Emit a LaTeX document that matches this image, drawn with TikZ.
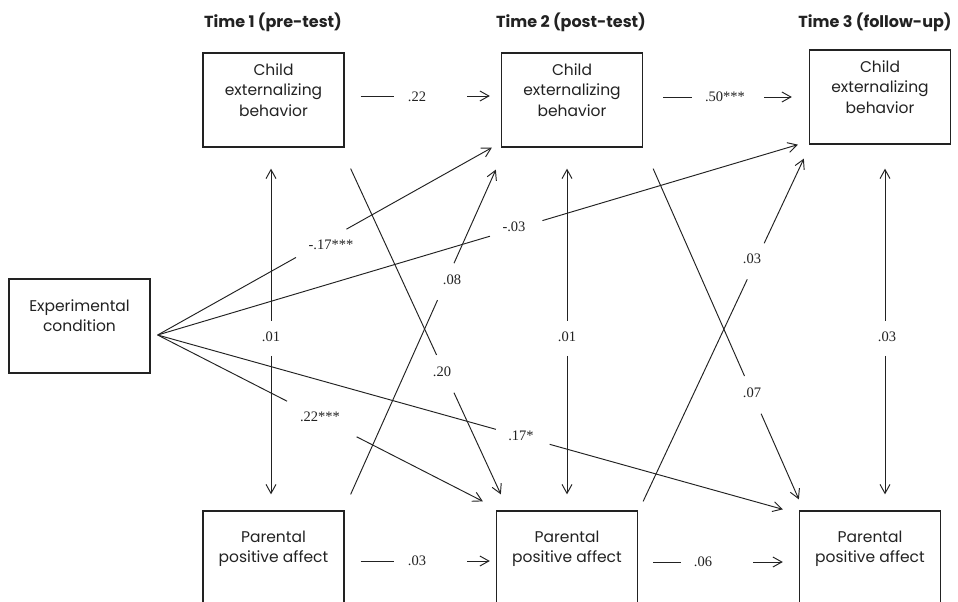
\documentclass[tikz,border=0pt]{standalone}
\usepackage{fontspec}
\setmainfont{Poppins}
\newfontfamily\labfont{Liberation Serif}
\usetikzlibrary{arrows.meta}
\definecolor{ink}{HTML}{222222}
\newcommand\gapline[6]{%
  \path #2 -- #3 coordinate[pos=#4] (#6a) coordinate[pos=#5] (#6b);
  \draw[conn,#1] #2 -- (#6a);
  \draw[conn,->] (#6b) -- #3;}
\begin{document}
\begin{tikzpicture}[x=1pt,y=-1pt,
  box/.style={draw=ink,line width=1.3pt,minimum width=141pt,minimum height=94pt,inner sep=0pt,
    text=ink,font=\fontsize{15.5}{20.5}\selectfont},
  ttl/.style={text=ink,font=\fontsize{16}{19}\selectfont\bfseries,inner sep=0pt},
  lbl/.style={text=ink,font=\labfont\fontsize{14.5}{16}\selectfont,inner sep=0pt},
  conn/.style={draw=ink,line width=0.95pt},
  >={Straight Barb[length=9pt,width=10pt]}]
\useasboundingbox (0,0) rectangle (958,602);
\fill[white] (0,0) rectangle (958,602);
\clip (0,0) rectangle (958,602);

% titles
\node[ttl] (t1) at (273,22) {Time 1 (pre-test)};
\node[ttl] (t2) at (571,22) {Time 2 (post-test)};
\node[ttl] (t3) at (875,22) {Time 3 (follow-up)};

% boxes
\node[box] (c1) at (273.5,100) {\begin{tabular}{@{}c@{}}Child\\externalizing\\behavior\\[17pt]\end{tabular}};
\node[box] (c2) at (572,100) {\begin{tabular}{@{}c@{}}Child\\externalizing\\behavior\\[17pt]\end{tabular}};
\node[box] (c3) at (880,97) {\begin{tabular}{@{}c@{}}Child\\externalizing\\behavior\\[17pt]\end{tabular}};
\node[box] (ex) at (79.5,326) {\begin{tabular}{@{}c@{}}Experimental\\condition\\[17pt]\end{tabular}};
\node[box] (p1) at (273.5,558) {\begin{tabular}{@{}c@{}}Parental\\positive affect\\[19pt]\end{tabular}};
\node[box] (p2) at (567,558) {\begin{tabular}{@{}c@{}}Parental\\positive affect\\[19pt]\end{tabular}};
\node[box] (p3) at (870,558) {\begin{tabular}{@{}c@{}}Parental\\positive affect\\[19pt]\end{tabular}};

\coordinate (src) at ([shift={(7pt,-9pt)}]ex.east);

% horizontal paths
\gapline{}{([shift={(16pt,4pt)}]c1.east)}{([shift={(-11pt,4pt)}]c2.west)}{0.260}{0.824}{h1}
\gapline{}{([shift={(20pt,3pt)}]c2.east)}{([shift={(-17pt,0pt)}]c3.west)}{0.221}{0.786}{h2}
\gapline{}{([shift={(16pt,-3pt)}]p1.east)}{([shift={(-6pt,-3pt)}]p2.west)}{0.260}{0.824}{h3}
\gapline{}{([shift={(15pt,-4pt)}]p2.east)}{([shift={(-16pt,-4pt)}]p3.west)}{0.212}{0.773}{h4}

% vertical correlations
\gapline{<-}{([shift={(-2.5pt,-21pt)}]c1.south)}{([shift={(-2.5pt,16pt)}]p1.north)}{0.468}{0.575}{v1}
\gapline{<-}{([shift={(-5pt,-21pt)}]c2.south)}{([shift={(0pt,16pt)}]p2.north)}{0.468}{0.575}{v2}
\gapline{<-}{([shift={(5pt,-24pt)}]c3.south)}{([shift={(15pt,16pt)}]p3.north)}{0.468}{0.575}{v3}

% experimental condition effects
\gapline{}{(src)}{([shift={(-9pt,0pt)}]c2.south west)}{0.414}{0.565}{d1}
\gapline{}{(src)}{([shift={(-11pt,0pt)}]c3.south west)}{0.519}{0.601}{d2}
\gapline{}{(src)}{([shift={(-13pt,9pt)}]p2.north west)}{0.398}{0.612}{d3}
\gapline{}{(src)}{([shift={(-16pt,1pt)}]p3.north west)}{0.541}{0.627}{d4}

% cross-lagged paths
\gapline{}{([shift={(6pt,-21pt)}]c1.south east)}{([shift={(5pt,16pt)}]p2.north west)}{0.572}{0.688}{d5}
\gapline{}{([shift={(6pt,16pt)}]p1.north east)}{([shift={(-5pt,-22pt)}]c2.south west)}{0.598}{0.712}{d6}
\gapline{}{([shift={(10pt,-21pt)}]c2.south east)}{([shift={(0pt,11pt)}]p3.north west)}{0.627}{0.741}{d7}
\gapline{}{([shift={(5pt,9pt)}]p2.north east)}{([shift={(-5pt,-14pt)}]c3.south west)}{0.648}{0.753}{d8}

% labels
\node[lbl] (l1) at (417,97) {.22};
\node[lbl] (l2) at (725,97) {.50***};
\node[lbl] (l3) at (417,561) {.03};
\node[lbl] (l4) at (703,562) {.06};
\node[lbl] (l5) at (271,337) {.01};
\node[lbl] (l6) at (567,337) {.01};
\node[lbl] (l7) at (887,337) {.03};
\node[lbl] (l8) at (331,245) {-.17***};
\node[lbl] (l9) at (514,227) {-.03};
\node[lbl] (l10) at (320,417) {.22***};
\node[lbl] (l11) at (521,436) {.17*};
\node[lbl] (l12) at (442,372) {.20};
\node[lbl] (l13) at (452,280) {.08};
\node[lbl] (l14) at (752,393) {.07};
\node[lbl] (l15) at (752,259) {.03};
\end{tikzpicture}
\end{document}
